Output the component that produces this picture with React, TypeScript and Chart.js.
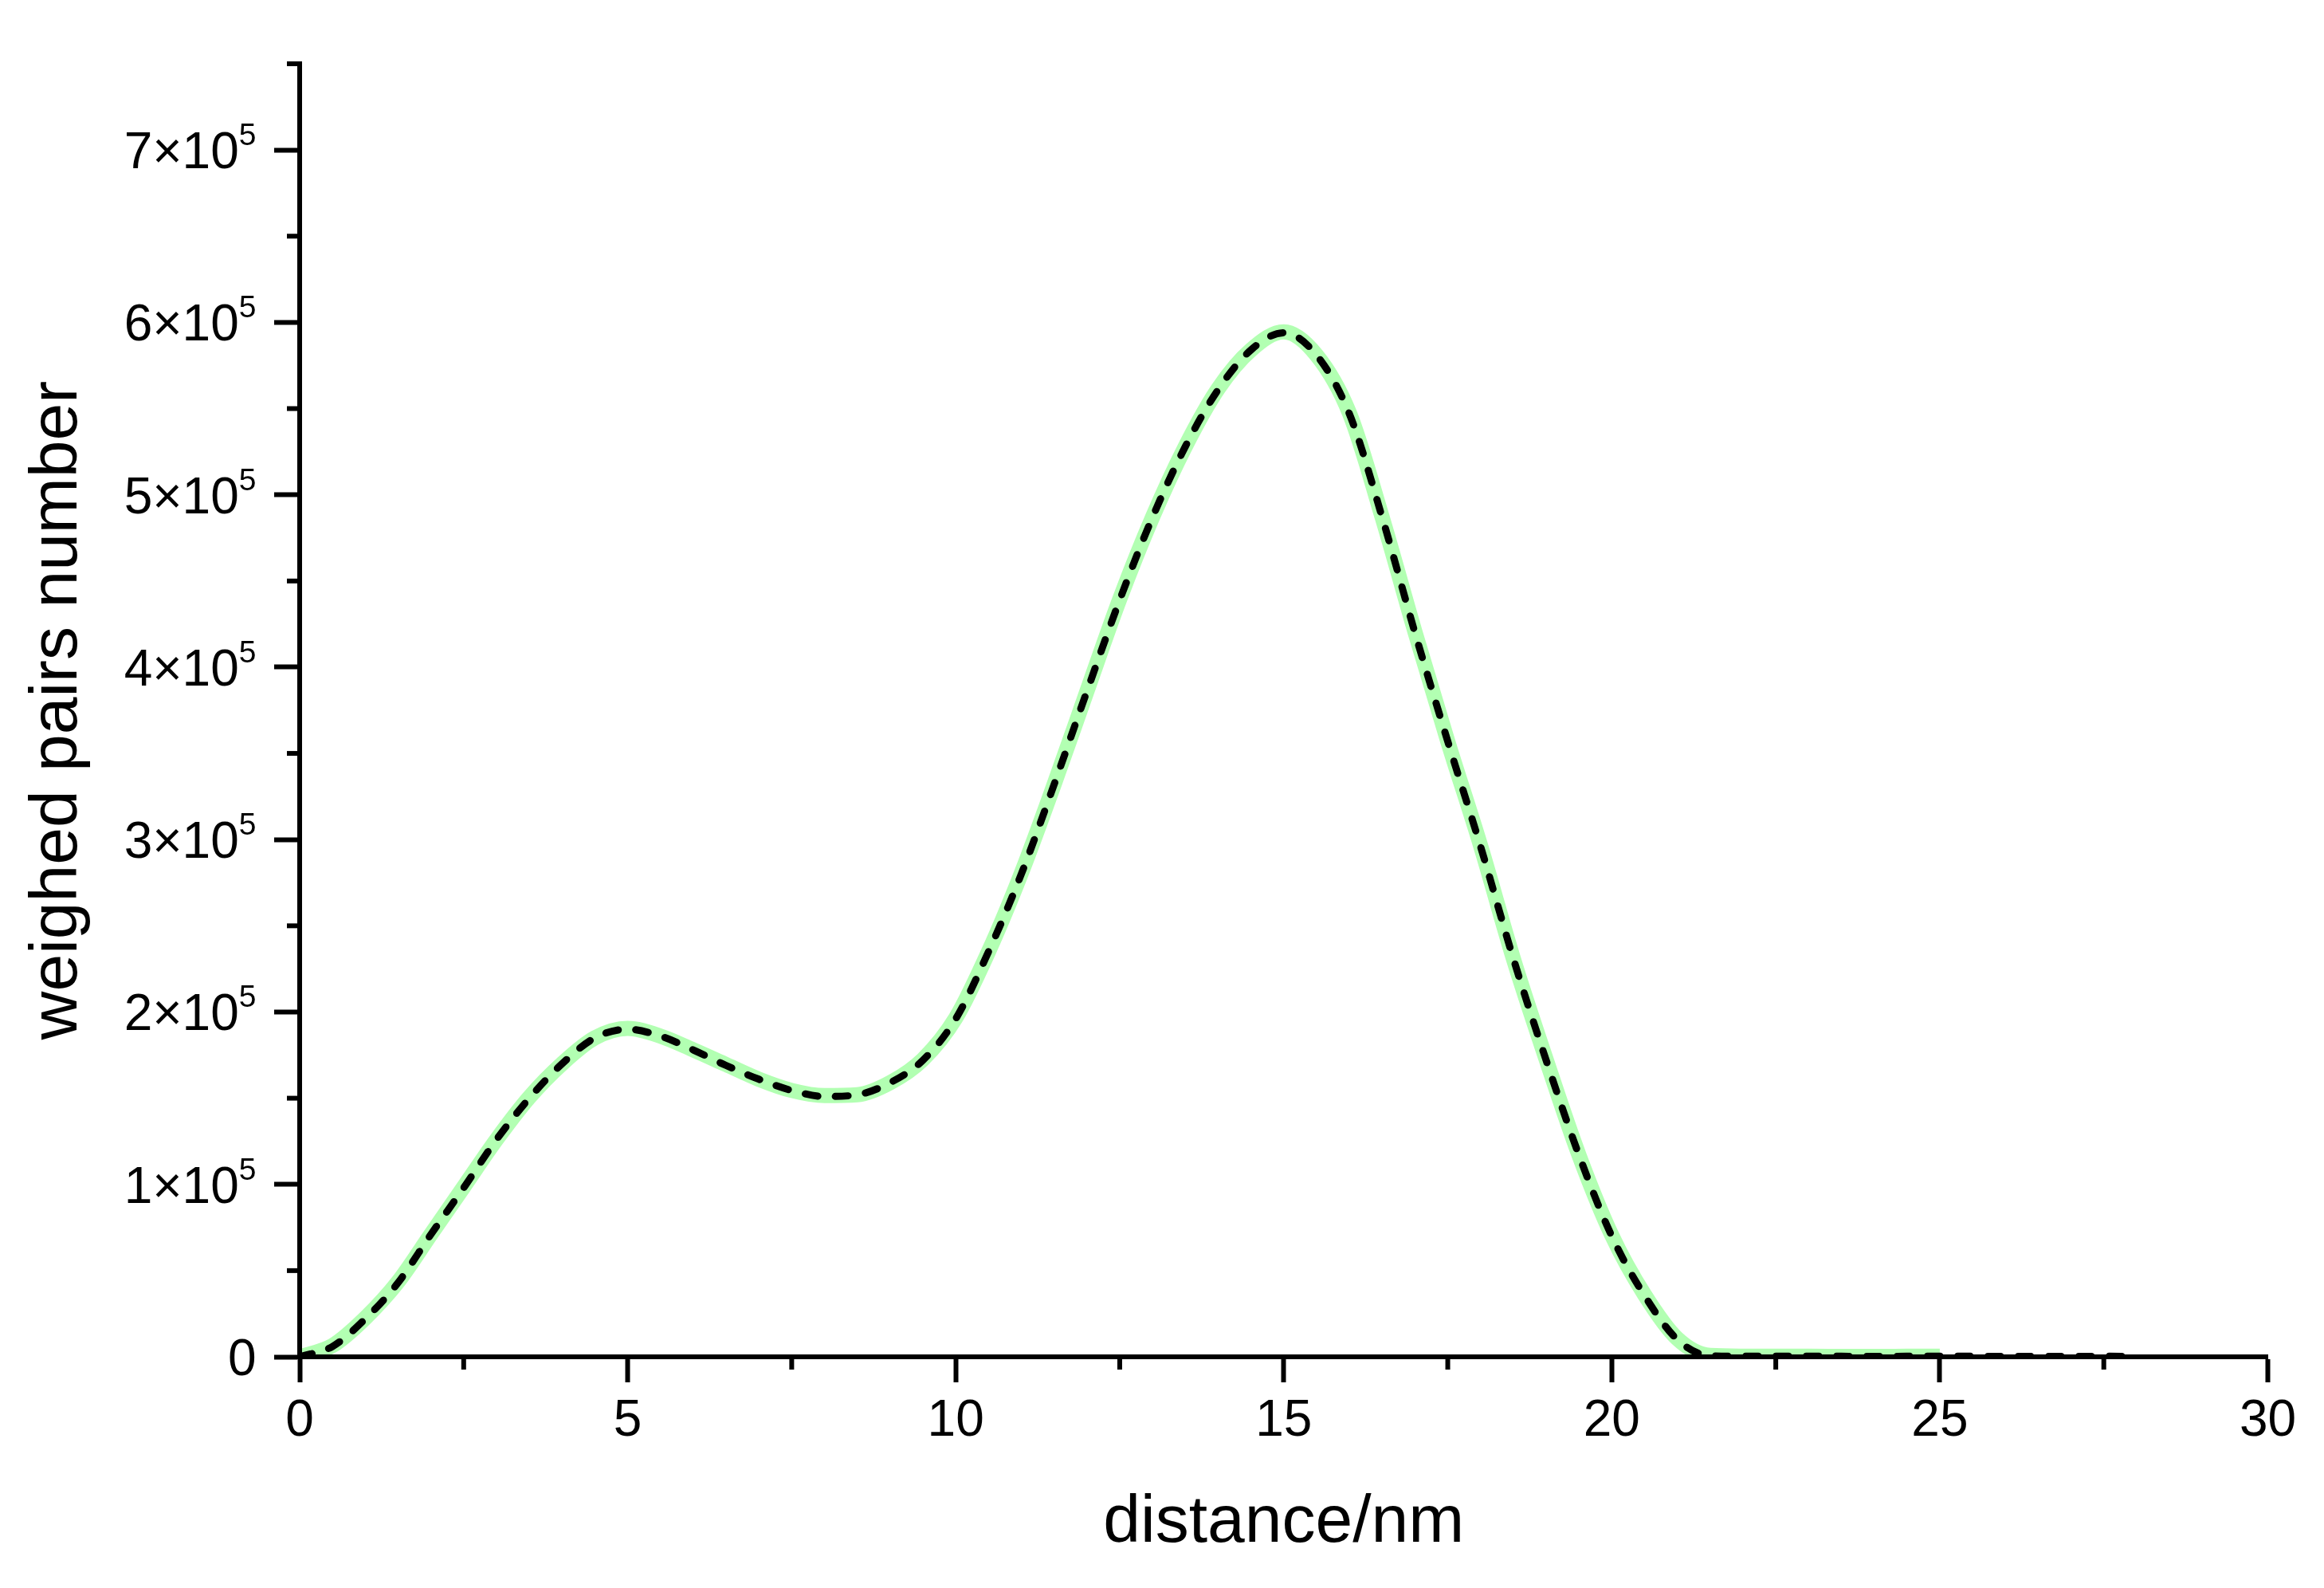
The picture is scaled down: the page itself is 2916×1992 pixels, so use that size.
import React, { useEffect, useRef } from 'react';
import { Chart, registerables } from 'chart.js';

Chart.register(...registerables);

const FONT = '"Liberation Sans", Arial, Helvetica, sans-serif';

// ---- data ----
const distance = [
  0, 0.5, 1, 1.5, 2, 2.5, 3, 3.5, 4, 4.5,
  5, 5.5, 6, 6.5, 7, 7.5, 8, 8.5, 9, 9.5,
  10, 10.5, 11, 11.5, 12, 12.5, 13, 13.5, 14, 14.5,
  15, 15.5, 16, 16.5, 17, 17.5, 18, 18.5, 19, 19.5,
  20, 20.5, 21, 21.5, 22, 22.5, 23, 23.5, 24, 24.5,
  25, 25.5, 26, 26.5, 27, 27.5, 28,
];

// black dashed curve (fit), 0 – 28 nm
const fitPairs = [
  0, 6000, 22000, 43000, 71000, 98000, 126000, 150000, 170000, 185000,
  190000, 186000, 178000, 169000, 161000, 154500, 151000, 152000, 159000, 172000,
  196000, 235000, 280000, 332000, 386000, 439000, 487000, 528000, 561000, 584000,
  594000, 581000, 547000, 487000, 420000, 357000, 296000, 231000, 172000, 117000,
  70000, 35500, 10000, 600, 300, 400, 350, 300, 250, 300,
  350, 300, 250, 200, 250, 300, 200,
];

// light green curve (experimental), 0 – 25 nm
const expPairs = [
  0, 6500, 22500, 43500, 71000, 98500, 126000, 150500, 170000, 185000,
  190500, 186000, 178000, 169500, 161000, 154500, 151500, 152000, 159000, 172500,
  196500, 235000, 280500, 332000, 386000, 439500, 487000, 528000, 561500, 584000,
  594500, 581000, 547500, 487000, 420500, 357000, 296500, 231000, 172500, 117000,
  70500, 36000, 10500, 800, 400, 300, 300, 250, 250, 300,
  300,
];

const xAxisTitle = 'distance/nm';
const yAxisTitle = 'weighed pairs number';

const X_MIN = 0;
const X_MAX = 30;
const X_STEP = 2.5; // minor step
const X_MAJOR = 5;
const Y_MIN = 0;
const Y_MAX = 750000;
const Y_STEP = 50000; // minor step
const Y_MAJOR = 100000;

// ---- styles ----
const GREEN = 'rgb(178,255,178)';
const AXIS_W = 6;
const MAJOR_LEN = 32;
const MINOR_LEN = 13;
const TICK_FONT = 64;
const SUP_FONT = 39;
const TITLE_FONT = 84;

const isMajor = (v: number | undefined, step: number) =>
  v != null && Math.abs(v / step - Math.round(v / step)) < 1e-6;

const decorPlugin = {
  id: 'decor',
  afterDraw(chart: any) {
    const { ctx, chartArea } = chart;
    const xs = chart.scales.x;
    const ys = chart.scales.y;
    ctx.save();
    ctx.strokeStyle = '#000';
    ctx.lineWidth = AXIS_W;
    ctx.lineCap = 'butt';
    // minor ticks
    xs.ticks.forEach((t: any) => {
      if (isMajor(t.value, X_MAJOR)) return;
      const px = xs.getPixelForValue(t.value);
      ctx.beginPath();
      ctx.moveTo(px, chartArea.bottom + AXIS_W / 2);
      ctx.lineTo(px, chartArea.bottom + AXIS_W / 2 + MINOR_LEN);
      ctx.stroke();
    });
    ys.ticks.forEach((t: any) => {
      if (isMajor(t.value, Y_MAJOR)) return;
      const py = ys.getPixelForValue(t.value);
      ctx.beginPath();
      ctx.moveTo(chartArea.left - AXIS_W / 2, py);
      ctx.lineTo(chartArea.left - AXIS_W / 2 - MINOR_LEN, py);
      ctx.stroke();
    });
    // y tick labels with superscript exponent
    ctx.fillStyle = '#000';
    ctx.textBaseline = 'alphabetic';
    ctx.textAlign = 'right';
    const right = chartArea.left - 54.5;
    ys.ticks.forEach((t: any) => {
      if (!isMajor(t.value, Y_MAJOR)) return;
      const py = ys.getPixelForValue(t.value);
      const base = py + 23;
      if (t.value === 0) {
        ctx.font = `${TICK_FONT}px ${FONT}`;
        ctx.fillText('0', right, base);
        return;
      }
      const exp = Math.floor(Math.log10(t.value) + 1e-9);
      const mant = Math.round(t.value / Math.pow(10, exp));
      ctx.font = `${SUP_FONT}px ${FONT}`;
      const supText = String(exp);
      const supW = ctx.measureText(supText).width;
      ctx.fillText(supText, right, base - 29);
      ctx.font = `${TICK_FONT}px ${FONT}`;
      ctx.fillText(`${mant}\u00D710`, right - supW, base);
    });
    ctx.restore();
  },
};

export default function App() {
  const ref = useRef<HTMLCanvasElement>(null);

  useEffect(() => {
    const canvas = ref.current;
    if (!canvas) return;
    Chart.defaults.font.family = FONT;
    const chart = new Chart(canvas, {
      type: 'line',
      data: {
        datasets: [
          {
            label: 'fit',
            data: distance.map((d, i) => ({ x: d, y: fitPairs[i] })),
            borderColor: '#000',
            borderWidth: 9,
            borderDash: [16, 22],
            borderCapStyle: 'round',
            borderJoinStyle: 'round',
            pointRadius: 0,
            cubicInterpolationMode: 'monotone',
            fill: false,
            clip: 0,
          } as any,
          {
            label: 'experiment',
            data: expPairs.map((v, i) => ({ x: distance[i], y: v })),
            borderColor: GREEN,
            borderWidth: 19,
            pointRadius: 0,
            cubicInterpolationMode: 'monotone',
            fill: false,
            clip: 0,
          } as any,
        ],
      },
      options: {
        animation: false,
        responsive: false,
        devicePixelRatio: 1,
        layout: { padding: { top: 80, right: 70.5, bottom: 0, left: 0 } },
        plugins: {
          legend: { display: false },
          tooltip: { enabled: false },
        },
        scales: {
          x: {
            type: 'linear',
            position: 'bottom',
            min: X_MIN,
            max: X_MAX,
            grid: {
              display: true,
              drawOnChartArea: false,
              drawTicks: true,
              tickLength: MAJOR_LEN,
              tickWidth: AXIS_W,
              tickColor: (c: any) => (isMajor(c.tick?.value, X_MAJOR) ? '#000' : 'rgba(0,0,0,0)'),
              z: 1,
            },
            border: { display: true, color: '#000', width: AXIS_W, z: 1 },
            ticks: {
              stepSize: X_STEP,
              autoSkip: false,
              maxRotation: 0,
              padding: 11,
              color: '#000',
              font: { family: FONT, size: TICK_FONT },
              callback: (v: any) => (isMajor(Number(v), X_MAJOR) ? String(v) : ''),
              z: 1,
            },
            title: {
              display: true,
              text: xAxisTitle,
              color: '#000',
              font: { family: FONT, size: TITLE_FONT },
              padding: { top: 0, bottom: 31 },
            },
            afterFit: (s: any) => {
              s.height = 290;
            },
          },
          y: {
            type: 'linear',
            position: 'left',
            min: Y_MIN,
            max: Y_MAX,
            grid: {
              display: true,
              drawOnChartArea: false,
              drawTicks: true,
              tickLength: MAJOR_LEN,
              tickWidth: AXIS_W,
              tickColor: (c: any) => (isMajor(c.tick?.value, Y_MAJOR) ? '#000' : 'rgba(0,0,0,0)'),
              z: 1,
            },
            border: { display: true, color: '#000', width: AXIS_W, z: 1 },
            ticks: { display: false, stepSize: Y_STEP, z: 1 },
            title: {
              display: true,
              text: yAxisTitle,
              color: '#000',
              font: { family: FONT, size: TITLE_FONT },
              padding: { top: 22, bottom: 0 },
            },
            afterFit: (s: any) => {
              s.width = 376;
            },
          },
        },
      } as any,
      plugins: [decorPlugin],
    });
    return () => chart.destroy();
  }, []);

  return (
    <div style={{ position: 'fixed', left: 0, top: 0, width: 2916, height: 1992, background: '#fff' }}>
      <canvas ref={ref} width={2916} height={1992} style={{ display: 'block', width: 2916, height: 1992 }} />
    </div>
  );
}
